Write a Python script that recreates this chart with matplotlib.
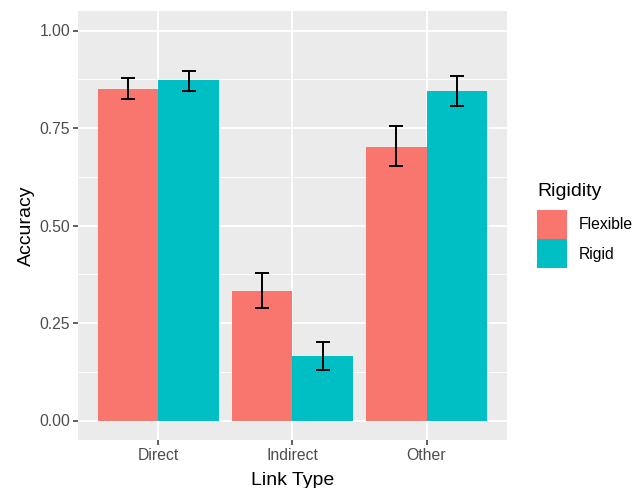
import matplotlib
matplotlib.use("Agg")
import matplotlib.pyplot as plt
from matplotlib.patches import Patch
import numpy as np

plt.rcParams["font.family"] = ["Liberation Sans", "DejaVu Sans"]

link_types = ["Direct", "Indirect", "Other"]
rigidity = ["Flexible", "Rigid"]
accuracy = {
    "Flexible": [0.851, 0.332, 0.702],
    "Rigid": [0.872, 0.166, 0.846],
}
err_low = {
    "Flexible": [0.824, 0.289, 0.652],
    "Rigid": [0.844, 0.130, 0.807],
}
err_high = {
    "Flexible": [0.879, 0.378, 0.754],
    "Rigid": [0.897, 0.201, 0.884],
}
colors = {"Flexible": "#F8766D", "Rigid": "#00BFC4"}
y_ticks = [0.0, 0.25, 0.5, 0.75, 1.0]
y_tick_labels = ["0.00", "0.25", "0.50", "0.75", "1.00"]

fig = plt.figure(figsize=(6.33, 4.88), dpi=100)
ax = fig.add_axes([78 / 633, 48 / 488, 429 / 633, 429 / 488])
ax.set_facecolor("#EBEBEB")

x = np.arange(1, len(link_types) + 1)
w = 0.45
for i, r in enumerate(rigidity):
    xs = x + (i - 0.5) * w
    vals = np.array(accuracy[r])
    ax.bar(xs, vals, width=w, color=colors[r], zorder=3, linewidth=0)
    lo = vals - np.array(err_low[r])
    hi = np.array(err_high[r]) - vals
    ax.errorbar(xs, vals, yerr=[lo, hi], fmt="none", ecolor="black",
                elinewidth=1.4, capsize=5.2, capthick=1.4, zorder=4)

ax.set_xlim(0.4, 3.6)
ax.set_ylim(-0.05, 1.05)
ax.set_xticks(x)
ax.set_xticklabels(link_types)
ax.set_yticks(y_ticks)
ax.set_yticklabels(y_tick_labels)
ax.set_yticks([0.125, 0.375, 0.625, 0.875], minor=True)
ax.grid(which="major", color="white", linewidth=1.3, zorder=0)
ax.grid(which="minor", axis="y", color="white", linewidth=0.65, zorder=0)
ax.set_axisbelow(True)
for s in ax.spines.values():
    s.set_visible(False)
ax.tick_params(which="major", length=3.5, width=1.1, color="#333333",
               labelcolor="#4D4D4D", labelsize=11.3, pad=2)
ax.tick_params(which="minor", length=0)

ax.set_xlabel("Link Type", fontsize=14, labelpad=6.5)
ax.set_ylabel("Accuracy", fontsize=14, labelpad=3)

handles = [Patch(facecolor=colors[r], edgecolor="none", label=r) for r in rigidity]
leg = fig.legend(handles=handles, title="Rigidity", loc="upper left",
                 bbox_to_anchor=(537 / 633, 1 - 183 / 488), frameon=False,
                 fontsize=11.3, title_fontsize=14, handlelength=1.9,
                 handleheight=2.46, handletextpad=0.75, labelspacing=0.05,
                 borderaxespad=0, borderpad=0)
leg._legend_box.align = "left"
leg._legend_box.sep = 7  # gap between title and keys

fig.savefig("out.png", dpi=100)
